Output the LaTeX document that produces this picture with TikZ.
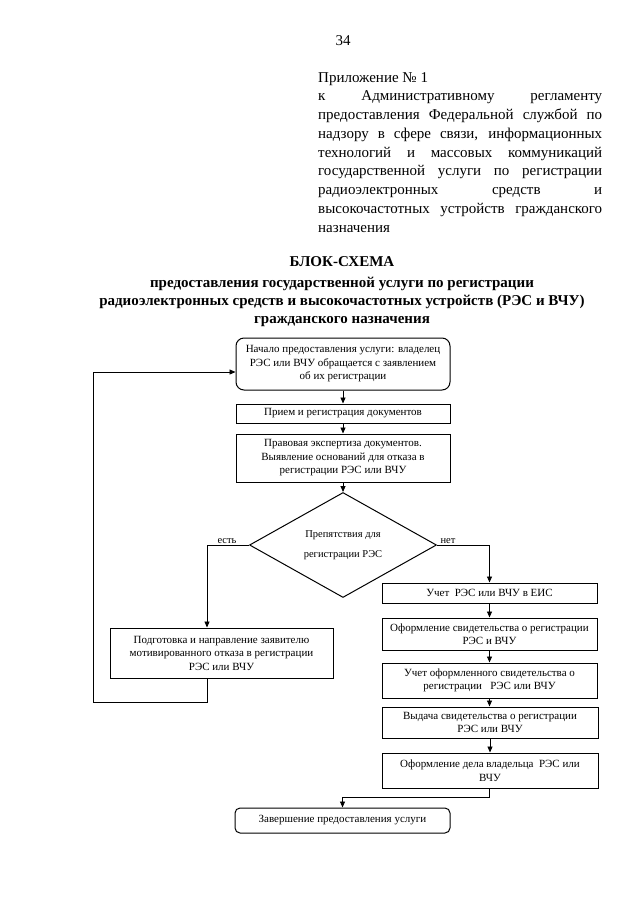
\documentclass[tikz,border=0pt]{standalone}
\usepackage{fontspec}
\setmainfont{Liberation Serif}
\usetikzlibrary{arrows.meta,shapes.geometric}
\begin{document}
\begin{tikzpicture}[x=1pt,y=-1pt,
  conn/.style={line width=0.8pt},
  arr/.style={line width=0.9pt,-{Triangle[length=6pt,width=5pt]}},
  box/.style={draw,line width=1pt,inner sep=0pt,align=center,
    font=\fontsize{11}{13.5}\selectfont},
  lbox/.style={box,minimum width=214pt},
  rbox/.style={box,minimum width=215pt},
  rbox2/.style={box,minimum width=216pt},
  lbl/.style={inner sep=1pt,font=\fontsize{10.5}{12}\selectfont},
  annex/.style={anchor=base west,inner sep=0pt,font=\fontsize{15}{18}\selectfont},
  ttl/.style={anchor=base,inner sep=0pt,font=\fontsize{15}{18}\selectfont\bfseries}
]
\useasboundingbox (0,0) rectangle (640,905);
\fill[white] (0,0) rectangle (640,905);

% page number
\node[anchor=base,inner sep=0pt,font=\fontsize{15}{18}\selectfont] (pg) at (343,45) {34};

% annex text
\def\aw{284pt}
\node[annex] (a1) at (318,82) {Приложение № 1};
\node[annex] (a2) at (318,100.75) {\makebox[\aw][s]{к Административному регламенту}};
\node[annex] (a3) at (318,119.5) {\makebox[\aw][s]{предоставления Федеральной службой по}};
\node[annex] (a4) at (318,138.25) {\makebox[\aw][s]{надзору в сфере связи, информационных}};
\node[annex] (a5) at (318,157) {\makebox[\aw][s]{технологий и массовых коммуникаций}};
\node[annex] (a6) at (318,175.75) {\makebox[\aw][s]{государственной услуги по регистрации}};
\node[annex] (a7) at (318,194.5) {\makebox[\aw][s]{радиоэлектронных средств и}};
\node[annex] (a8) at (318,213.25) {\makebox[\aw][s]{высокочастотных устройств гражданского}};
\node[annex] (a9) at (318,232) {назначения};

% title
\node[ttl] (t1) at (342,266) {БЛОК-СХЕМА};
\node[ttl] (t2) at (342,287) {предоставления государственной услуги по регистрации};
\node[ttl] (t3) at (342,305) {радиоэлектронных средств и высокочастотных устройств (РЭС и ВЧУ)};
\node[ttl] (t4) at (342,323) {гражданского назначения};

% boxes
\node[lbox,rounded corners=8pt,minimum height=52pt] (start) at (343,364)
  {Начало предоставления услуги: владелец\\РЭС или ВЧУ обращается с заявлением\\об их регистрации};
\node[lbox,minimum height=19pt] (recv) at (343,413.5) {Прием и регистрация документов};
\node[lbox,minimum height=48pt] (legal) at (343,458)
  {Правовая экспертиза документов.\\Выявление оснований для отказа в\\регистрации РЭС или ВЧУ};
\node[draw,line width=1pt,diamond,inner sep=0pt,aspect=1.78,minimum width=187pt,minimum height=105pt,
  align=center,font=\fontsize{10.5}{20}\selectfont] (dia) at (343,545)
  {Препятствия для\\регистрации РЭС};
\node[box,minimum width=223pt,minimum height=50pt] (refuse) at (221.5,653)
  {Подготовка и направление заявителю\\мотивированного отказа в регистрации\\РЭС или ВЧУ};
\node[rbox,minimum height=20pt] (ueis) at (489.5,593) {Учет\ \ РЭС или ВЧУ в ЕИС};
\node[rbox,minimum height=32pt] (cert) at (489.5,634)
  {Оформление свидетельства о регистрации\\РЭС и ВЧУ};
\node[rbox,minimum height=35pt] (ucert) at (489.5,680.5)
  {Учет оформленного свидетельства о\\регистрации\ \ \ РЭС или ВЧУ};
\node[rbox2,minimum height=31pt] (issue) at (490,722.5)
  {Выдача свидетельства о регистрации\\РЭС или ВЧУ};
\node[rbox2,minimum height=35pt] (file) at (490,770.5)
  {Оформление дела владельца\ \ РЭС или\\ВЧУ};
\node[box,rounded corners=5pt,minimum width=215pt,minimum height=25pt] (finish) at (342.5,820.5)
  {Завершение предоставления услуги};

% connectors
\draw[arr] (start) -- (recv);
\draw[arr] (recv) -- (legal);
\draw[arr] (legal) -- (dia);

\coordinate (lx) at (207,545);
\draw[arr] (dia.west) -- (lx) -- (lx |- refuse.north);
\node[lbl,anchor=south] (yes) at (227,545) {есть};

\coordinate (rx) at (489.5,545);
\draw[arr] (dia.east) -- (rx) -- (ueis.north);
\node[lbl,anchor=south] (no) at (448,545) {нет};

\draw[arr] (ueis) -- (cert);
\draw[arr] (cert) -- (ucert);
\draw[arr] (ucert.south) -- (ucert.south |- issue.north);
\draw[arr] (issue) -- (file);

\coordinate (fx) at (489.5,797);
\coordinate (fx2) at (342.5,797);
\draw[arr] (fx |- file.south) -- (fx) -- (fx2) -- (finish.north);

\coordinate (b1) at (207,702);
\coordinate (b2) at (93,702);
\coordinate (b3) at (93,372);
\draw[arr] (b1 |- refuse.south) -- (b1) -- (b2) -- (b3) -- (b3 -| start.west);
\end{tikzpicture}
\end{document}
